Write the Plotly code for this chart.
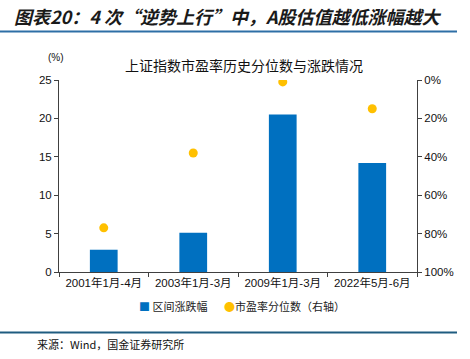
import plotly.graph_objects as go

categories = ["2001年1月-4月", "2003年1月-3月", "2009年1月-3月", "2022年5月-6月"]
change_pct = [2.9, 5.1, 20.5, 14.2]
pe_percentile = [77, 38, 1, 15]
left_ticks = [0, 5, 10, 15, 20, 25]
right_ticks = [0, 20, 40, 60, 80, 100]
right_labels = ["0%", "20%", "40%", "60%", "80%", "100%"]
series_names = ["区间涨跌幅", "市盈率分位数（右轴）"]
bar_color = "#0070C0"
dot_color = "#FFC000"

W, H = 470, 359
L, R, T, B = 59, 417, 79.7, 272.3
pw, ph = R - L, B - T

def px(x):
    return (x - L) / pw

def py(y):
    return (B - y) / ph

font_main = "Liberation Sans, Arial, Noto Sans CJK SC"
font_cjk = "Noto Sans CJK SC"

fig = go.Figure()
fig.add_trace(go.Bar(
    x=categories, y=change_pct, name=series_names[0],
    marker=dict(color=bar_color, line=dict(width=0)),
    width=0.31, yaxis="y",
))
fig.add_trace(go.Scatter(
    x=categories, y=pe_percentile, name=series_names[1],
    mode="markers", marker=dict(color=dot_color, size=9),
    yaxis="y2",
))

axis_line = "#404040"
tickfont = dict(family=font_main, size=11.5, color="#111111")
fig.update_layout(
    width=W, height=H,
    margin=dict(l=L, r=W - R, t=T, b=H - B, pad=0, autoexpand=False),
    paper_bgcolor="white", plot_bgcolor="white",
    font=dict(family=font_main, size=12, color="#000000"),
    showlegend=False,
    xaxis=dict(
        type="category", showline=True, linecolor=axis_line, linewidth=1,
        ticks="outside", ticklen=4, tickcolor=axis_line, tickson="boundaries",
        tickfont=tickfont, automargin=False,
        showgrid=False, zeroline=False,
    ),
    yaxis=dict(
        range=[0, 25], tickvals=left_ticks, showline=True, linecolor=axis_line,
        linewidth=1, ticks="outside", ticklen=4, tickcolor=axis_line,
        showgrid=False, zeroline=False, automargin=False,
        tickfont=tickfont,
    ),
    yaxis2=dict(
        range=[100, 0], overlaying="y", side="right", tickvals=right_ticks,
        ticktext=right_labels, showline=True, linecolor=axis_line, linewidth=1,
        ticks="outside", ticklen=4, tickcolor=axis_line,
        showgrid=False, zeroline=False, automargin=False,
        tickfont=tickfont,
    ),
    bargap=0.69,
)

# legend drawn as text
fig.add_annotation(
    text=f"<span style='color:{bar_color}'>■</span> {series_names[0]}",
    xref="paper", yref="paper", x=px(137), y=py(306), xanchor="left", yanchor="middle",
    showarrow=False, font=dict(family=font_cjk, size=11, color="#222222"),
)
fig.add_annotation(
    text=f"<span style='color:{dot_color}'>●</span>{series_names[1]}",
    xref="paper", yref="paper", x=px(222), y=py(306), xanchor="left", yanchor="middle",
    showarrow=False, font=dict(family=font_cjk, size=11, color="#222222"),
)

fig.add_annotation(
    text="<b><i>图表20：4 次“逆势上行”中，A股估值越低涨幅越大</i></b>",
    xref="paper", yref="paper", x=px(12), y=py(15), xanchor="left", yanchor="middle",
    showarrow=False, font=dict(family=font_cjk, size=18, color="#1a1a1a"),
)
fig.add_annotation(
    text="上证指数市盈率历史分位数与涨跌情况",
    xref="paper", yref="paper", x=px(244), y=py(65), xanchor="center", yanchor="middle",
    showarrow=False, font=dict(family=font_cjk, size=14, color="#111111"),
)
fig.add_annotation(
    text="(%)",
    xref="paper", yref="paper", x=px(56), y=py(57), xanchor="center", yanchor="middle",
    showarrow=False, font=dict(family=font_main, size=10, color="#111111"),
)
fig.add_annotation(
    text="来源：Wind，国金证券研究所",
    xref="paper", yref="paper", x=px(35), y=py(345), xanchor="left", yanchor="middle",
    showarrow=False, font=dict(family=font_cjk, size=11, color="#111111"),
)

fig.add_shape(type="line", xref="paper", yref="paper",
              x0=px(0), x1=px(457), y0=py(31), y1=py(31),
              line=dict(color="#2E6FA6", width=2))
fig.add_shape(type="line", xref="paper", yref="paper",
              x0=px(0), x1=px(457), y0=py(333), y1=py(333),
              line=dict(color="#1F5C80", width=2))

fig.write_html("out.html", config={"displayModeBar": False},
               post_script="document.body.style.margin='0';")
